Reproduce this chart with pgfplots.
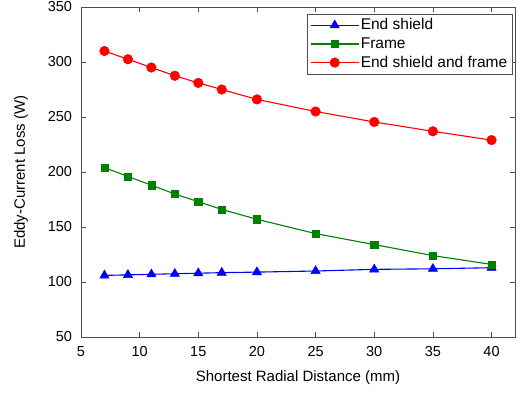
\documentclass[border=0pt]{standalone}
\usepackage{pgfplots}
\pgfplotsset{compat=1.18}
\usepackage{fontspec}
\setmainfont{Liberation Sans}
\definecolor{mgreen}{RGB}{0,128,0}
\definecolor{axgray}{RGB}{80,80,80}
\begin{document}
\fontsize{14.5}{17}\selectfont
\begin{tikzpicture}
\begin{axis}[
  at={(0pt,0pt)}, anchor=south west,
  scale only axis,
  width=434pt, height=330pt,
  xmin=5, xmax=42, ymin=50, ymax=350,
  xtick={5,10,...,40}, ytick={50,100,...,350},
  tick align=inside, tick pos=both,
  major tick length=5pt,
  /pgf/number format/assume math mode=true,
  tick label style={font=\fontsize{14.5}{17}\selectfont},
  xticklabel style={yshift=-4pt},
  yticklabel style={xshift=-4pt},
  xlabel={Shortest Radial Distance (mm)},
  ylabel={Eddy-Current Loss (W)},
  xlabel style={at={(axis description cs:0.5,0)}, anchor=center, yshift=-41pt, font=\fontsize{15}{17}\selectfont},
  ylabel style={at={(axis description cs:0,0.5)}, anchor=center, yshift=60pt, font=\fontsize{15}{17}\selectfont},
  axis line style={axgray},
  every tick/.style={axgray},
  legend style={at={(axis description cs:0.993,0.979)}, anchor=north east, font=\fontsize{15.5}{17}\selectfont, draw=axgray, row sep=2.5pt, inner sep=3pt, nodes={inner sep=1.5pt}},
  legend cell align=left,
  legend image code/.code={\draw[mark repeat=2,mark phase=2] plot coordinates {(0pt,0pt) (24pt,0pt) (48pt,0pt)};},
]
\addplot[blue, line width=1.1pt, mark=triangle*, mark size=5.3pt, mark options={fill=blue, solid, line width=0.5pt}] coordinates {
(7,106) (9,106.5) (11,107) (13,107.5) (15,108) (17,108.5) (20,109) (25,110) (30,111.5) (35,112) (40,113)};
\addlegendentry{End shield}
\addplot[mgreen, line width=1.1pt, mark=square*, mark size=3.6pt, mark options={fill=mgreen, solid, line width=0.5pt}] coordinates {
(7,204) (9,196) (11,188) (13,180) (15,173) (17,166) (20,157) (25,144) (30,134) (35,124) (40,116)};
\addlegendentry{Frame}
\addplot[red, line width=1.1pt, mark=*, mark size=4.8pt, mark options={fill=red, solid, line width=0.5pt}] coordinates {
(7,310) (9,302.5) (11,295) (13,287.5) (15,281) (17,275) (20,266) (25,255) (30,245.5) (35,237) (40,229)};
\addlegendentry{End shield and frame}
\end{axis}
\pgfresetboundingbox
\path[use as bounding box] (-81pt,-57pt) rectangle (448pt,337pt);
\end{tikzpicture}
\end{document}
